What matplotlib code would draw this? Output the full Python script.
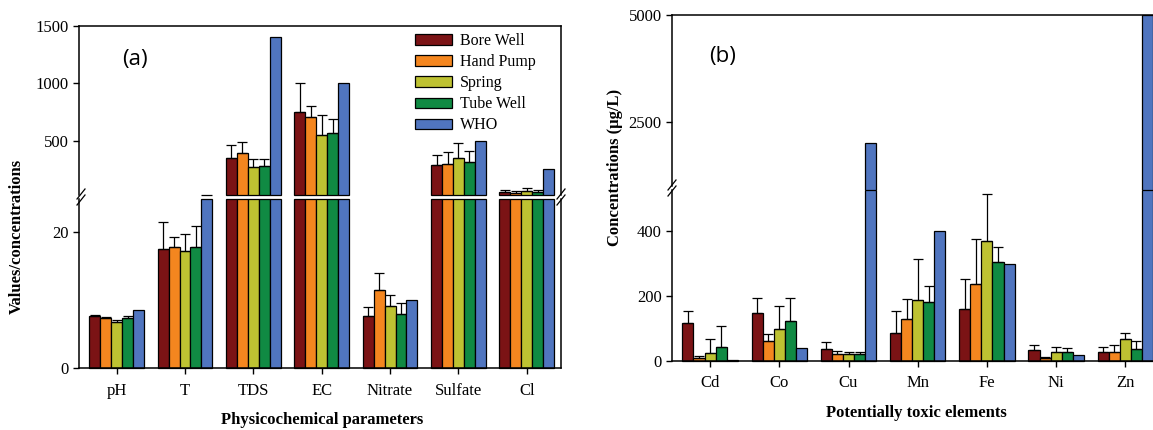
import numpy as np
import matplotlib.pyplot as plt
from matplotlib.patches import Patch

plt.rcParams['font.family'] = ['Liberation Serif', 'DejaVu Serif']

# data
sources = ['Bore Well', 'Hand Pump', 'Spring', 'Tube Well', 'WHO']
colors = ['#7b1315', '#f4861f', '#bec232', '#108a43', '#5075bf']

# (a) physicochemical parameters
params = ['pH', 'T', 'TDS', 'EC', 'Nitrate', 'Sulfate', 'Cl']
bore_a = [7.7, 17.5, 347, 752, 7.6, 288, 55]
hand_a = [7.3, 17.9, 390, 703, 11.5, 295, 48]
spring_a = [6.8, 17.2, 268, 549, 9.1, 349, 65]
tube_a = [7.3, 17.9, 280, 569, 7.9, 317, 55]
who_a = [8.5, 30, 1400, 1000, 10, 500, 250]
bore_a_sd = [0.1, 4.0, 115, 247, 1.4, 85, 20]
hand_a_sd = [0.2, 1.4, 101, 101, 2.5, 109, 12]
spring_a_sd = [0.3, 2.6, 73, 174, 1.6, 133, 20]
tube_a_sd = [0.3, 3.1, 61, 117, 1.7, 96, 17]
who_a_sd = [0, 0, 0, 0, 0, 0, 0]

# (b) potentially toxic elements (ug/L)
elements = ['Cd', 'Co', 'Cu', 'Mn', 'Fe', 'Ni', 'Zn']
bore_b = [116, 149, 36, 87, 160, 34, 29]
hand_b = [8, 62, 21, 129, 237, 8, 29]
spring_b = [26, 100, 23, 188, 369, 29, 67]
tube_b = [44, 123, 21, 182, 306, 27, 36]
who_b = [3, 40, 2000, 400, 300, 20, 5000]
bore_b_sd = [39, 46, 24, 67, 91, 15, 15]
hand_b_sd = [7, 20, 9, 61, 137, 4, 19]
spring_b_sd = [42, 70, 5, 126, 145, 13, 20]
tube_b_sd = [64, 70, 6, 49, 45, 13, 26]
who_b_sd = [0, 0, 0, 0, 0, 0, 0]

W, H = 1153, 430
fig = plt.figure(figsize=(W / 100, H / 100), dpi=100)


def px(x0, y0, x1, y1):
    # pixel box -> figure fraction
    return [x0 / W, 1 - y1 / H, (x1 - x0) / W, (y1 - y0) / H]


bw = 0.16


def draw_panel(ax_top, ax_bot, series, sds, cut, labels, pad):
    x = np.arange(len(labels))
    for i in range(len(series)):
        xi = x + (i - 2) * bw
        v = np.array(series[i], float)
        sd = np.array(sds[i], float)
        low = np.minimum(v, cut)
        ax_bot.bar(xi, low, bw, color=colors[i], edgecolor='black', lw=0.9, clip_on=False)
        hi = v > cut
        ax_top.bar(xi[hi], v[hi] - cut, bw, bottom=cut, color=colors[i],
                   edgecolor='black', lw=0.9, clip_on=False)
        m = sd > 0
        for ax, mm in [(ax_bot, m & ~hi), (ax_top, m & hi)]:
            if mm.any():
                ax.errorbar(xi[mm], v[mm], yerr=[np.zeros(mm.sum()), sd[mm]], fmt='none',
                            ecolor='black', elinewidth=0.9, capsize=3.5, capthick=0.9)
    for ax in (ax_top, ax_bot):
        ax.set_xlim(-0.55, len(labels) - 0.5)
        ax.tick_params(axis='y', direction='out', length=4, labelsize=12, width=1)
        for s in ax.spines.values():
            s.set_linewidth(1.1)
    ax_top.spines['bottom'].set_visible(False)
    ax_top.set_xticks([])
    ax_bot.spines['top'].set_visible(False)
    ax_bot.set_xticks(x)
    ax_bot.set_xticklabels(labels)
    ax_bot.tick_params(axis='x', direction='out', length=4, labelsize=12, pad=pad, width=1)


def brk(xp, yp):
    # double slash break mark, pixel coords
    for dy in (-3, 3):
        fig.add_artist(plt.Line2D([(xp - 4) / W, (xp + 4) / W],
                                  [1 - (yp + dy + 5) / H, 1 - (yp + dy - 5) / H],
                                  transform=fig.transFigure, color='black', lw=0.9))


# panel (a)
axa_top = fig.add_axes(px(79, 25.7, 561, 195.3))
axa_bot = fig.add_axes(px(79, 198.5, 561, 367.7))
draw_panel(axa_top, axa_bot, [bore_a, hand_a, spring_a, tube_a, who_a],
           [bore_a_sd, hand_a_sd, spring_a_sd, tube_a_sd, who_a_sd], 25, params, 7)
axa_top.set_ylim(25, 1500)
axa_top.set_yticks([500, 1000, 1500])
axa_bot.set_ylim(0, 25)
axa_bot.set_yticks([0, 20])
axa_top.text(0.09, 0.8, '(a)', transform=axa_top.transAxes, fontsize=16,
             family='Open Sans', va='center')
handles = [Patch(facecolor=c, edgecolor='black', lw=0.9) for c in colors]
axa_top.legend(handles, sources, loc='upper left', bbox_to_anchor=(415 / W, 1 - 33 / H),
               bbox_transform=fig.transFigure, frameon=False, fontsize=11.5,
               handlelength=2.3, handleheight=0.62, labelspacing=0.32,
               handletextpad=0.5, borderpad=0, borderaxespad=0)
brk(81, 197)
brk(561, 197)

# panel (b)
axb_top = fig.add_axes(px(672, 15.3, 1160, 185.5))
axb_bot = fig.add_axes(px(672, 190.4, 1160, 361))
draw_panel(axb_top, axb_bot, [bore_b, hand_b, spring_b, tube_b, who_b],
           [bore_b_sd, hand_b_sd, spring_b_sd, tube_b_sd, who_b_sd], 525, elements, 6)
axb_top.set_ylim(1000, 5000)
axb_top.set_yticks([2500, 5000])
axb_bot.set_ylim(0, 525)
axb_bot.set_yticks([0, 200, 400])
axb_top.text(0.076, 0.76, '(b)', transform=axb_top.transAxes, fontsize=16,
             family='Open Sans', va='center')
brk(672, 188)

# axis titles
fig.text(17 / W, 1 - 236 / H, 'Values/concentrations', rotation=90, ha='center',
         va='center', fontsize=12, fontweight='bold')
fig.text(322 / W, 1 - 420 / H, 'Physicochemical parameters', ha='center',
         va='center', fontsize=12, fontweight='bold')
fig.text(615 / W, 1 - 167 / H, 'Concentrations (µg/L)', rotation=90, ha='center',
         va='center', fontsize=12, fontweight='bold')
fig.text(916 / W, 1 - 413 / H, 'Potentially toxic elements', ha='center',
         va='center', fontsize=12, fontweight='bold')

fig.savefig('out.png', dpi=100)
